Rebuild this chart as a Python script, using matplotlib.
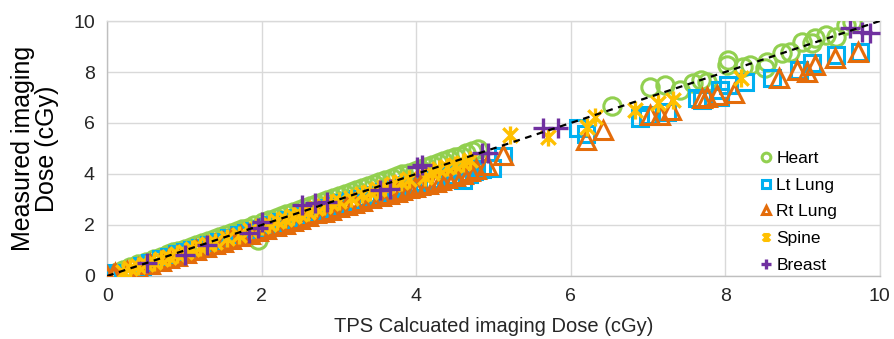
import matplotlib
matplotlib.use("Agg")
import matplotlib.pyplot as plt
from matplotlib.path import Path

plt.rcParams['font.family'] = ['Liberation Sans', 'DejaVu Sans']

# ---------------- data ----------------
heart_x = [0.1, 0.2, 0.3, 0.4, 0.5, 0.6, 0.7, 0.78, 0.85, 0.92, 1.0, 1.08, 1.15, 1.22, 1.3, 1.38,
           1.45, 1.52, 1.6, 1.68, 1.75, 1.82, 1.9, 1.95, 2.02, 2.1, 2.18, 2.25, 2.32, 2.4, 2.48,
           2.55, 2.62, 2.7, 2.78, 2.85, 2.92, 3.0, 3.08, 3.15, 3.22, 3.3, 3.38, 3.45, 3.52, 3.6,
           3.68, 3.75, 3.82, 3.9, 3.98, 4.05, 4.12, 4.2, 4.28, 4.35, 4.42, 4.5, 4.58, 4.65, 4.72, 4.8,
           6.53, 7.02, 7.22, 7.41, 7.58, 7.69, 7.76, 8.02, 8.03, 8.23, 8.32, 8.54, 8.51, 8.73,
           8.84, 9.0, 9.12, 9.16, 9.31, 9.44, 9.57, 9.64]
heart_y = [0.1, 0.22, 0.35, 0.45, 0.55, 0.66, 0.75, 0.85, 0.92, 0.98, 1.05, 1.15, 1.22, 1.3, 1.38, 1.45,
           1.52, 1.6, 1.68, 1.76, 1.84, 1.9, 1.98, 1.42, 2.1, 2.2, 2.28, 2.36, 2.42, 2.5, 2.58,
           2.65, 2.74, 2.82, 2.9, 2.98, 3.05, 3.12, 3.2, 3.28, 3.36, 3.45, 3.52, 3.6, 3.68, 3.75,
           3.84, 3.92, 3.98, 4.05, 4.12, 4.2, 4.28, 4.36, 4.42, 4.5, 4.58, 4.65, 4.72, 4.82, 4.9, 4.98,
           6.65, 7.42, 7.49, 7.29, 7.57, 7.69, 7.61, 8.27, 8.47, 8.2, 8.27, 8.39, 8.16, 8.75,
           8.78, 9.18, 9.14, 9.33, 9.45, 9.37, 9.84, 9.96]

ltlung_x = [0.0, 0.05, 0.1, 0.45, 0.55, 0.7, 0.8, 0.9, 1.0, 1.1, 1.2, 1.32, 1.45, 1.58, 1.7, 1.8,
            1.9, 2.0, 2.08, 2.15, 2.25, 2.35, 2.45, 2.55, 2.65, 2.75, 2.85, 2.95, 3.05, 3.15, 3.25,
            3.35, 3.42, 3.5, 3.58, 3.65, 3.72, 3.8, 3.88, 3.95, 4.02, 4.1, 4.2, 4.3, 4.38, 4.45,
            4.6, 4.68, 4.75, 4.85, 4.98, 5.12,
            6.09, 6.2, 6.9, 7.0, 7.24, 7.63, 7.7, 7.93, 7.93, 8.03, 8.25, 8.6, 8.96, 9.13, 9.44, 9.74]
ltlung_y = [0.05, 0.1, 0.0, 0.4, 0.5, 0.65, 0.75, 0.85, 0.95, 1.02, 1.1, 1.22, 1.35, 1.48, 1.6, 1.68,
            1.75, 1.85, 1.92, 2.0, 2.1, 2.2, 2.28, 2.35, 2.45, 2.55, 2.65, 2.75, 2.85, 2.95, 3.02,
            3.1, 3.18, 3.25, 3.3, 3.35, 3.42, 3.5, 3.55, 3.6, 3.65, 3.7, 3.75, 3.8, 3.88, 3.95,
            3.76, 4.0, 4.1, 4.18, 4.23, 4.7,
            5.8, 5.55, 6.2, 6.3, 6.43, 6.98, 6.9, 7.0, 7.3, 7.5, 7.6, 7.76, 8.08, 8.35, 8.67, 8.78]

rtlung_x = [0.0, 0.08, 0.1, 0.25, 0.4, 0.55, 0.7, 0.8, 0.9, 1.02, 1.15, 1.28, 1.4, 1.5, 1.6, 1.72,
            1.85, 1.95, 2.05, 2.18, 2.3, 2.4, 2.5, 2.6, 2.7, 2.8, 2.9, 3.0, 3.1, 3.2, 3.3, 3.42,
            3.55, 3.65, 3.75, 3.82, 3.9, 3.98, 4.05, 4.15, 4.25, 4.32, 4.4, 4.5, 4.6, 4.7, 4.78,
            4.92, 5.12,
            6.2, 6.42, 7.02, 7.15, 7.3, 7.7, 7.76, 7.9, 8.12, 8.7, 8.93, 9.06, 9.16, 9.42, 9.72]
rtlung_y = [0.0, 0.05, 0.1, 0.18, 0.3, 0.45, 0.6, 0.7, 0.8, 0.9, 1.0, 1.12, 1.25, 1.35, 1.45, 1.55,
            1.65, 1.75, 1.85, 1.95, 2.05, 2.15, 2.25, 2.35, 2.45, 2.52, 2.6, 2.7, 2.8, 2.88, 2.95, 3.05,
            3.15, 3.22, 3.3, 3.38, 3.45, 3.5, 3.55, 3.62, 3.7, 3.78, 3.85, 3.92, 4.0, 4.1, 4.2,
            4.35, 4.75,
            5.33, 5.72, 6.3, 6.3, 6.5, 6.98, 7.02, 7.1, 7.18, 7.76, 8.08, 8.0, 8.27, 8.55, 8.78]

spine_x = [0.2, 0.3, 0.4, 0.5, 0.6, 0.7, 0.8, 0.9, 1.0, 1.1, 1.2, 1.3, 1.4, 1.55, 1.7, 1.85,
           2.0, 2.1, 2.2, 2.3, 2.4, 2.5, 2.6, 2.7, 2.8, 2.9, 3.0, 3.15, 3.3, 3.4, 3.5, 3.6,
           3.7, 3.8, 3.9, 4.11, 4.2, 4.3, 4.4, 4.5, 4.6, 4.7,
           5.21, 5.7, 6.21, 6.31, 6.83, 7.13, 7.32, 8.21]
spine_y = [0.15, 0.3, 0.4, 0.48, 0.55, 0.66, 0.75, 0.85, 0.95, 1.05, 1.15, 1.25, 1.35, 1.5, 1.6, 1.8,
           1.95, 2.02, 2.15, 2.25, 2.35, 2.42, 2.5, 2.65, 2.75, 2.85, 2.95, 3.05, 3.2, 3.3, 3.4, 3.5,
           3.6, 3.7, 3.8, 3.88, 4.05, 4.2, 4.28, 4.35, 4.45, 4.55,
           5.53, 5.45, 5.84, 6.24, 6.5, 6.78, 6.9, 7.76]

breast_x = [0.51, 1.01, 1.29, 1.83, 1.95, 2.0, 2.52, 2.69, 2.85, 3.53, 3.66, 4.01, 4.08,
            4.85, 4.93, 5.64, 5.83, 9.61, 9.77, 9.87]
breast_y = [0.5, 0.82, 1.22, 1.69, 1.9, 2.12, 2.78, 2.86, 2.9, 3.37, 3.4, 4.27, 4.35,
            4.82, 4.82, 5.8, 5.8, 9.73, 9.57, 9.53]

ticks = [0, 2, 4, 6, 8, 10]

# ---------------- styling ----------------
star = Path([(0, -1), (0, 1), (-0.8, -0.8), (0.8, 0.8), (-0.8, 0.8), (0.8, -0.8)],
            [Path.MOVETO, Path.LINETO, Path.MOVETO, Path.LINETO, Path.MOVETO, Path.LINETO])

series = [
    ("Heart", heart_x, heart_y, "o", "#92D050", 12.5),
    ("Lt Lung", ltlung_x, ltlung_y, "s", "#00B0F0", 11.5),
    ("Rt Lung", rtlung_x, rtlung_y, "^", "#E46C0A", 12.5),
    ("Spine", spine_x, spine_y, star, "#FFC000", 13),
    ("Breast", breast_x, breast_y, "+", "#7030A0", 14),
]

fig = plt.figure(figsize=(8.94, 3.39), dpi=100)
ax = fig.add_axes([0.12, 0.186, 0.864, 0.752])

for name, xs, ys, m, c, ms in series:
    if m == "+" or m is star:
        ax.plot(xs, ys, linestyle="none", marker=m, markersize=ms, markeredgecolor=c,
                markeredgewidth=2.4, label=name, zorder=3)
    else:
        ax.plot(xs, ys, linestyle="none", marker=m, markersize=ms, markerfacecolor="none",
                markeredgecolor=c, markeredgewidth=2.2, label=name, zorder=3)

ax.plot([0, 10], [0, 10], linestyle=(0, (3, 2.5)), color="black", linewidth=1.6, zorder=5)

ax.set_xlim(0, 10)
ax.set_ylim(0, 10)
ax.set_xticks(ticks)
ax.set_yticks(ticks)
ax.set_xticklabels([str(t) for t in ticks])
ax.set_yticklabels([str(t) for t in ticks])
ax.tick_params(length=0, labelsize=14, labelcolor="#262626", pad=9)
ax.grid(True, color="#D9D9D9", linewidth=1.0, zorder=0)
ax.set_axisbelow(True)
for s in ("top", "right"):
    ax.spines[s].set_color("#D9D9D9")
    ax.spines[s].set_linewidth(1.0)
for s in ("left", "bottom"):
    ax.spines[s].set_color("#BFBFBF")
    ax.spines[s].set_linewidth(1.0)

ax.set_xlabel("TPS Calcuated imaging Dose (cGy)", fontsize=14.5, color="#262626", labelpad=8)
ax.set_ylabel("Measured imaging\nDose (cGy)", fontsize=18, color="#000000", labelpad=10,
              linespacing=1.0)

leg = ax.legend(loc="upper left", bbox_to_anchor=(0.845, 0.49), frameon=False,
                fontsize=12.5, markerscale=0.5, handlelength=0.7, handletextpad=0.25,
                labelspacing=0.66, borderpad=0, borderaxespad=0)

fig.savefig("out.png", dpi=100)
